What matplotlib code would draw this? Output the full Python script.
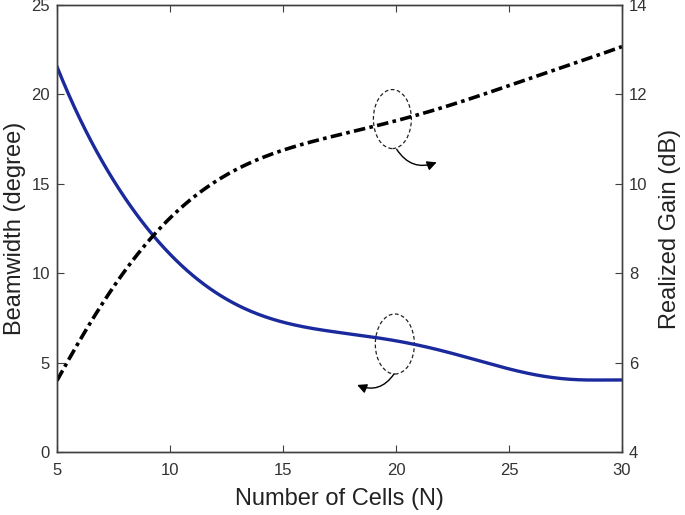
import matplotlib
matplotlib.use("Agg")
import matplotlib.pyplot as plt
from matplotlib.patches import Ellipse
import numpy as np

plt.rcParams['font.family'] = ['Liberation Sans', 'DejaVu Sans']

# Beamwidth (left axis)
bw_n = [5, 6.17, 7.05, 8.09, 9.27, 10.45, 11.63, 13.11, 14.59, 15.77, 17.54, 19.17, 20.8, 22.42, 24.64, 26.85, 28.77, 30]
bw_val = [21.55, 18.2, 16.15, 14.09, 12.04, 10.55, 9.25, 8.13, 7.38, 7.05, 6.67, 6.45, 5.98, 5.52, 4.77, 4.21, 3.99, 4.03]

# Realized gain (right axis)
g_n = [5, 5.8, 6.68, 7.57, 8.46, 9.2, 10.0, 11.48, 12.97, 14.44, 15.92, 17.4, 18.87, 20.2, 23.16, 26.12, 30]
g_val = [5.6, 6.21, 7.10, 7.77, 8.37, 8.78, 9.26, 9.86, 10.31, 10.64, 10.91, 11.09, 11.28, 11.43, 11.87, 12.40, 13.07]

x_ticks = [5, 10, 15, 20, 25, 30]
left_ticks = [0, 5, 10, 15, 20, 25]
right_ticks = [4, 6, 8, 10, 12, 14]

def smooth(xs, ys, deg, n=400):
    # least-squares polynomial smoothing of the points
    xs = np.asarray(xs, float); ys = np.asarray(ys, float)
    w = np.ones_like(xs); w[0] = w[-1] = 5.0
    p = np.polynomial.Polynomial.fit(xs, ys, deg, w=w)
    xx = np.linspace(xs[0], xs[-1], n)
    return xx, p(xx)

fig = plt.figure(figsize=(6.85, 5.15), dpi=100)
ax = fig.add_axes([57/685, 1 - 452/515, 565/685, 447/515])
ax2 = ax.twinx()

xb, yb = smooth(bw_n, bw_val, 7)
ax.plot(xb, yb, color='#1a2a9c', lw=2.4)
xg, yg = smooth(g_n, g_val, 6)
ax2.plot(xg, yg, color='black', lw=2.6, linestyle=(0, (3.2, 1.2, 1.0, 1.2)))

ax.set_xlim(5, 30)
ax.set_ylim(0, 25)
ax2.set_ylim(4, 14)
ax.set_xticks(x_ticks)
ax.set_yticks(left_ticks)
ax2.set_yticks(right_ticks)

tick_col = '#333333'
for a in (ax, ax2):
    for s in a.spines.values():
        s.set_color('#404040')
        s.set_linewidth(1.0)
ax.tick_params(axis='both', direction='in', labelsize=12, colors='#404040', labelcolor=tick_col, length=5, top=True, pad=5)
ax.tick_params(axis='x', pad=8)
ax2.tick_params(axis='y', direction='in', labelsize=12, colors='#404040', labelcolor=tick_col, length=5, pad=5)

ax.set_xlabel('Number of Cells (N)', fontsize=17, color='#222222', labelpad=7)
ax.set_ylabel('Beamwidth (degree)', fontsize=17, color='#222222', labelpad=4)
ax2.set_ylabel('Realized Gain (dB)', fontsize=17, color='#222222', labelpad=8)

# annotations
ax.add_patch(Ellipse((19.84, 18.62), 1.68, 3.3, fill=False, ls=(0, (3, 2)), lw=0.9, color='#222222'))
ax.add_patch(Ellipse((19.95, 6.04), 1.73, 3.36, fill=False, ls=(0, (3, 2)), lw=0.9, color='#222222'))
ax.annotate('', xy=(21.8, 16.2), xytext=(20.03, 16.93),
            arrowprops=dict(arrowstyle='-|>', color='black', lw=1.0, mutation_scale=14,
                            connectionstyle='arc3,rad=0.4', shrinkA=0, shrinkB=0))
ax.annotate('', xy=(18.28, 3.75), xytext=(19.91, 4.36),
            arrowprops=dict(arrowstyle='-|>', color='black', lw=1.0, mutation_scale=14,
                            connectionstyle='arc3,rad=-0.4', shrinkA=0, shrinkB=0))

fig.savefig('out.png', dpi=100)
